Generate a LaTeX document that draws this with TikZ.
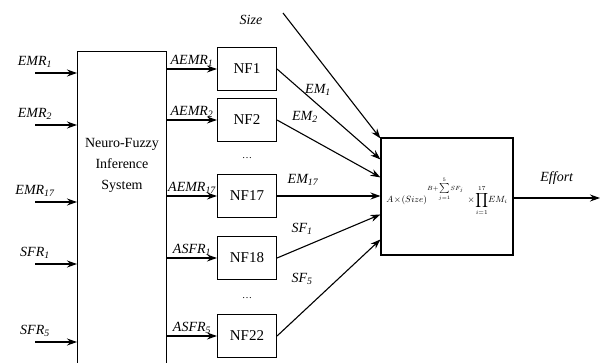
\documentclass[tikz,border=0pt]{standalone}
\usepackage{fontspec}
\setmainfont{Liberation Serif}
\usetikzlibrary{arrows.meta,positioning,calc}
\newcommand{\subl}[2]{\textit{#1}\textsubscript{\textit{#2}}}

\begin{document}
\begin{tikzpicture}[x=1pt,y=-1pt,line width=1.1pt,
  nfbox/.style={draw,minimum width=59pt,minimum height=43pt,
                font=\fontsize{15}{15}\selectfont},
  arr/.style={-{Stealth[length=10pt,width=7pt]}},
  lbl/.style={font=\fontsize{14}{14}\selectfont\itshape,inner sep=1pt}]
  \clip (0,0) rectangle (600,362);
  % neuro-fuzzy block (runs off the bottom)
  \node[draw,minimum width=89pt,minimum height=330pt,anchor=north west]
    (nfis) at (77,51) {};
  \node[align=center,font=\fontsize{14}{21}\selectfont] (nfistxt) at (122,165)
    {Neuro-Fuzzy\\Inference\\System};
  % inputs
  \coordinate (emr1) at (35,73);
  \coordinate (emr2) at (35,125);
  \coordinate (emr17) at (35,202);
  \coordinate (sfr1) at (35,264);
  \coordinate (sfr5) at (35,342);
  \draw[arr] (emr1) -- (emr1 -| nfis.west) node[pos=0,above=4pt,lbl]{\subl{EMR}{1}};
  \draw[arr] (emr2) -- (emr2 -| nfis.west) node[pos=0,above=4pt,lbl]{\subl{EMR}{2}};
  \draw[arr] (emr17) -- (emr17 -| nfis.west) node[pos=0,above=4pt,lbl]{\subl{EMR}{17}};
  \draw[arr] (sfr1) -- (sfr1 -| nfis.west) node[pos=0,above=4pt,lbl]{\subl{SFR}{1}};
  \draw[arr] (sfr5) -- (sfr5 -| nfis.west) node[pos=0,above=4pt,lbl]{\subl{SFR}{5}};
  % NF blocks
  \node[nfbox] (nf1) at (247,69) {NF1};
  \node[nfbox] (nf2) at (247,120) {NF2};
  \node[nfbox] (nf17) at (247,196) {NF17};
  \node[nfbox] (nf18) at (247,258) {NF18};
  \node[nfbox] (nf22) at (247,336) {NF22};
  \node (dots1) at (247,158) {\dots};
  \node (dots2) at (247,298) {\dots};
  \draw[arr] (nf1.west -| nfis.east) -- (nf1.west) node[midway,above=1pt,lbl]{\subl{AEMR}{1}};
  \draw[arr] (nf2.west -| nfis.east) -- (nf2.west) node[midway,above=1pt,lbl]{\subl{AEMR}{2}};
  \draw[arr] (nf17.west -| nfis.east) -- (nf17.west) node[midway,above=1pt,lbl]{\subl{AEMR}{17}};
  \draw[arr] (nf18.west -| nfis.east) -- (nf18.west) node[midway,above=1pt,lbl]{\subl{ASFR}{1}};
  \draw[arr] (nf22.west -| nfis.east) -- (nf22.west) node[midway,above=1pt,lbl]{\subl{ASFR}{5}};
  % effort model
  \node[draw,minimum width=132pt,minimum height=117pt,font=\fontsize{9}{11}\selectfont]
    (model) at (447,196.5)
    {$A\!\times\!(Size)^{B+\sum\limits_{j=1}^{5}\!SF_j}\,\times\!\displaystyle\prod_{i=1}^{17}\!EM_i$};
  \coordinate (size) at (283,13);
  \node[lbl] (sizelbl) at (251,20) {Size};
  \draw[arr] (size) -- ([yshift=-1pt]model.north west);
  \draw[arr] (nf1.east) -- ([yshift=-22pt]model.north west);
  \draw[arr] (nf2.east) -- ([yshift=-40pt]model.north west);
  \draw[arr] (nf17.east) -- (nf17.east -| model.west);
  \draw[arr] (nf18.east) -- ([yshift=-77pt]model.north west);
  \draw[arr] (nf22.east) -- ([yshift=-102pt]model.north west);
  \node[lbl] (em1) at (318,90) {\subl{EM}{1}};
  \node[lbl] (em2) at (305,117) {\subl{EM}{2}};
  \node[lbl] (em17) at (303,180) {\subl{EM}{17}};
  \node[lbl] (sf1) at (302,229) {\subl{SF}{1}};
  \node[lbl] (sf5) at (302,279) {\subl{SF}{5}};
  % output
  \coordinate (effort) at (600,198);
  \draw[arr] (model.east |- effort) -- (effort) node[midway,above=12pt,lbl]{Effort};
\end{tikzpicture}
\end{document}
